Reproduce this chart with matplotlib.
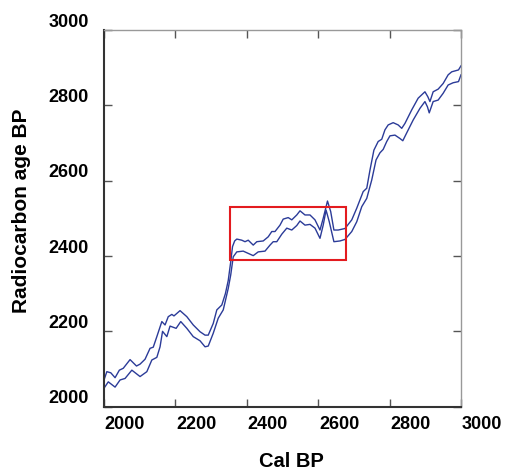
import matplotlib
matplotlib.use("Agg")
import matplotlib.pyplot as plt
from matplotlib.patches import Rectangle
from matplotlib.transforms import ScaledTranslation

plt.rcParams['font.family'] = ['Liberation Sans', 'DejaVu Sans']

# Upper calibration bound (cal BP, radiocarbon BP)
upper_x = [2000, 2008, 2019, 2031, 2043, 2054, 2073, 2091, 2101, 2115, 2129, 2138, 2148,
           2162, 2171, 2180, 2190, 2196, 2213, 2232, 2250, 2269, 2283, 2292, 2306, 2316,
           2330, 2340, 2348, 2355, 2360, 2366, 2372, 2386, 2395, 2404, 2418, 2428, 2446,
           2460, 2470, 2479, 2493, 2502, 2516, 2526, 2540, 2549, 2563, 2577, 2591, 2605,
           2614, 2626, 2635, 2644, 2656, 2675, 2694, 2708, 2717, 2726, 2736, 2745, 2756,
           2768, 2778, 2787, 2796, 2810, 2824, 2834, 2843, 2862, 2880, 2899, 2907, 2913,
           2922, 2936, 2950, 2964, 2974, 2993, 3000]
upper_y = [2071, 2093, 2090, 2077, 2097, 2102, 2125, 2108, 2113, 2126, 2155, 2158, 2186,
           2226, 2217, 2239, 2245, 2241, 2255, 2239, 2217, 2199, 2190, 2190, 2221, 2257,
           2270, 2300, 2335, 2385, 2425, 2440, 2445, 2442, 2438, 2442, 2429, 2438, 2440,
           2451, 2465, 2465, 2482, 2498, 2502, 2496, 2509, 2520, 2509, 2509, 2496, 2469,
           2500, 2546, 2518, 2469, 2469, 2473, 2496, 2527, 2549, 2571, 2580, 2628, 2681,
           2704, 2710, 2735, 2748, 2754, 2748, 2739, 2752, 2788, 2819, 2836, 2823, 2810,
           2836, 2843, 2858, 2881, 2889, 2894, 2905]

# Lower calibration bound
lower_x = [2000, 2012, 2031, 2045, 2059, 2078, 2101, 2120, 2134, 2148, 2157, 2164, 2176,
           2185, 2202, 2215, 2232, 2250, 2269, 2283, 2292, 2306, 2320, 2334, 2348, 2355,
           2362, 2372, 2390, 2404, 2418, 2432, 2451, 2465, 2474, 2484, 2498, 2512, 2526,
           2540, 2549, 2563, 2577, 2591, 2605, 2614, 2622, 2631, 2644, 2661, 2675, 2694,
           2708, 2722, 2736, 2750, 2762, 2773, 2782, 2792, 2801, 2815, 2829, 2837, 2848,
           2866, 2885, 2899, 2906, 2911, 2922, 2936, 2950, 2964, 2978, 2993, 3000]
lower_y = [2049, 2066, 2052, 2071, 2075, 2097, 2080, 2093, 2124, 2131, 2159, 2200, 2186,
           2214, 2208, 2226, 2208, 2186, 2175, 2159, 2161, 2195, 2235, 2257, 2314, 2350,
           2398, 2411, 2413, 2407, 2401, 2411, 2413, 2429, 2438, 2438, 2458, 2474, 2469,
           2481, 2493, 2482, 2484, 2474, 2447, 2482, 2522, 2491, 2438, 2440, 2444, 2465,
           2491, 2531, 2553, 2602, 2655, 2674, 2683, 2704, 2719, 2721, 2712, 2706, 2727,
           2761, 2792, 2810, 2796, 2780, 2810, 2814, 2832, 2854, 2860, 2863, 2881]

# Highlighted plateau
box_x = [2353, 2678]
box_y = [2389, 2531]

x_ticks = [2000, 2200, 2400, 2600, 2800, 3000]
y_ticks = [2000, 2200, 2400, 2600, 2800, 3000]

line_color = '#2b3b98'

fig = plt.figure(figsize=(5.05, 4.69), dpi=100)
ax = fig.add_axes([104 / 505, (469 - 406.7) / 469, 357 / 505, 376.7 / 469])

ax.plot(upper_x, upper_y, color=line_color, lw=1.0)
ax.plot(lower_x, lower_y, color=line_color, lw=1.0)

ax.add_patch(Rectangle((box_x[0], box_y[0]), box_x[1] - box_x[0], box_y[1] - box_y[0],
                       fill=False, edgecolor='#e31b1f', lw=1.5, zorder=3))

ax.set_xlim(2000, 3000)
ax.set_ylim(2000, 3000)
ax.set_xticks(x_ticks)
ax.set_yticks(y_ticks)
ax.set_xticklabels([str(t) for t in x_ticks], fontsize=13, fontweight='bold')
ax.set_yticklabels([str(t) for t in y_ticks], fontsize=13, fontweight='bold')

ax.tick_params(direction='in', length=6, width=1, top=True, right=True,
               colors='#555555', labelcolor='black')
ax.tick_params(axis='x', pad=7)
ax.tick_params(axis='y', pad=11)

for lab in ax.get_xticklabels():
    lab.set_transform(lab.get_transform() + ScaledTranslation(0.21, 0, fig.dpi_scale_trans))
for lab in ax.get_yticklabels():
    lab.set_transform(lab.get_transform() + ScaledTranslation(0, 0.10, fig.dpi_scale_trans))

for side in ['left', 'bottom']:
    ax.spines[side].set_color('#333333')
    ax.spines[side].set_linewidth(1.5)
for side in ['top', 'right']:
    ax.spines[side].set_color('#999999')
    ax.spines[side].set_linewidth(1.0)

fig.text(291.7 / 505, 1 - 461 / 469, 'Cal BP', ha='center', va='center',
         fontsize=14.5, fontweight='bold')
fig.text(21.7 / 505, 1 - 211 / 469, 'Radiocarbon age BP', ha='center', va='center',
         rotation=90, fontsize=15, fontweight='bold')

fig.savefig('out.png', dpi=100)
